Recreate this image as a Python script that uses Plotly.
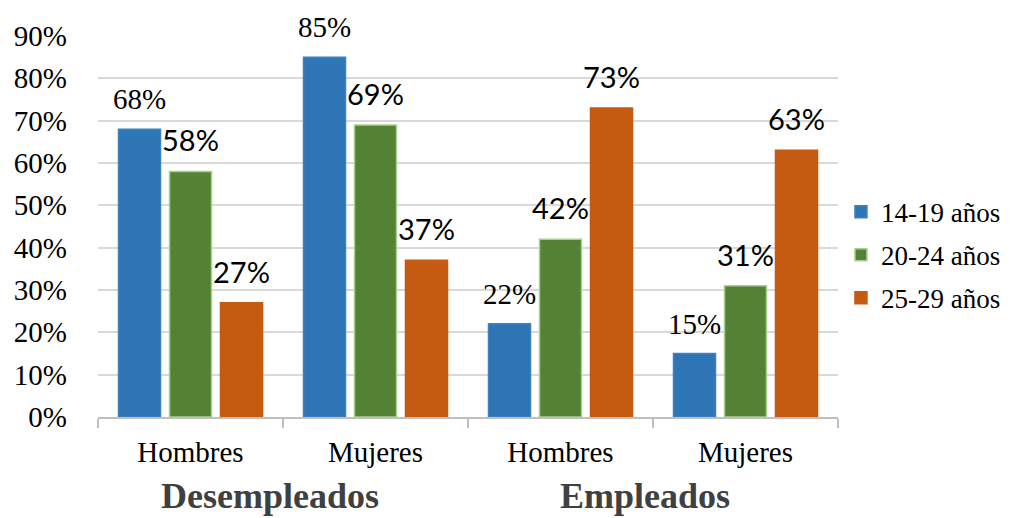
import plotly.graph_objects as go

# ---- data ----
groups = ["Desempleados", "Desempleados", "Empleados", "Empleados"]
sexes = ["Hombres", "Mujeres", "Hombres", "Mujeres"]
series_names = ["14-19 años", "20-24 años", "25-29 años"]
v_14_19 = [0.68, 0.85, 0.22, 0.15]
v_20_24 = [0.58, 0.69, 0.42, 0.31]
v_25_29 = [0.27, 0.37, 0.73, 0.63]
y_ticks = [0, 0.1, 0.2, 0.3, 0.4, 0.5, 0.6, 0.7, 0.8, 0.9]
group_labels = ["Desempleados", "Empleados"]

# ---- style ----
colors = ["#2E75B6", "#548235", "#C55A11"]
edge_colors = ["#3F82C0", "#A9D18E", "#C55A11"]
serif = "Liberation Serif, Times New Roman, serif"
label_fonts = [serif, "Lato", "Lato"]
group_xshift = [-13, -8]

keys = [f"{g}|{s}" for g, s in zip(groups, sexes)]
values = [v_14_19, v_20_24, v_25_29]

fig = go.Figure()
for name, vals, c, ec in zip(series_names, values, colors, edge_colors):
    fig.add_trace(go.Bar(
        x=keys, y=vals, name=name, legendgroup=name,
        marker=dict(color=c, line=dict(color=ec, width=1.5)),
        hoverinfo="skip",
    ))

slot_px = 51
for si, vals in enumerate(values):
    for k, v in zip(keys, vals):
        fig.add_annotation(
            x=k, y=v, text=f"{round(v * 100)}%", showarrow=False,
            yanchor="bottom", xanchor="center",
            xshift=(si - 1) * slot_px, yshift=12,
            font=dict(family=label_fonts[si], size=29, color="#000000"),
        )

# group labels
for gi, gl in enumerate(group_labels):
    fig.add_annotation(
        x=gi * 2 + 0.5, xref="x", y=0, yref="paper", yanchor="top",
        yshift=-57, xshift=group_xshift[gi], text=f"<b>{gl}</b>", showarrow=False,
        font=dict(family=serif, size=36, color="#404040"),
    )

# the page body adds an 8px offset; margins compensate for it
fig.update_layout(
    width=1013, height=510,
    margin=dict(l=90, r=183, t=28, b=101, autoexpand=False),
    paper_bgcolor="white", plot_bgcolor="white",
    barmode="group", bargap=0.173, bargroupgap=0.176,
    showlegend=True,
    legend=dict(
        x=1.004, xanchor="left", y=0.425, yanchor="middle",
        font=dict(family=serif, size=27, color="#000000"),
        tracegroupgap=5, itemwidth=30,
    ),
    font=dict(family=serif, color="#000000"),
)

fig.update_xaxes(
    automargin=False,
    categoryorder="array", categoryarray=keys,
    tickmode="array", tickvals=keys, ticktext=sexes,
    showline=True, linecolor="#BFBFBF", linewidth=1.5,
    ticks="outside", tickson="boundaries", ticklen=9, tickcolor="#BFBFBF", tickwidth=1.5,
    ticklabelstandoff=8,
    showgrid=False,
    tickfont=dict(family=serif, size=29, color="#000000"),
)
fig.update_yaxes(
    automargin=False,
    range=[0, 0.9], tickmode="array", tickvals=y_ticks, tickformat=".0%",
    showgrid=True, gridcolor="#D9D9D9", gridwidth=1.5,
    zeroline=False, showline=False, ticks="",
    ticklabelstandoff=30,
    tickfont=dict(family=serif, size=29, color="#000000"),
)

fig.write_html("out.html")
